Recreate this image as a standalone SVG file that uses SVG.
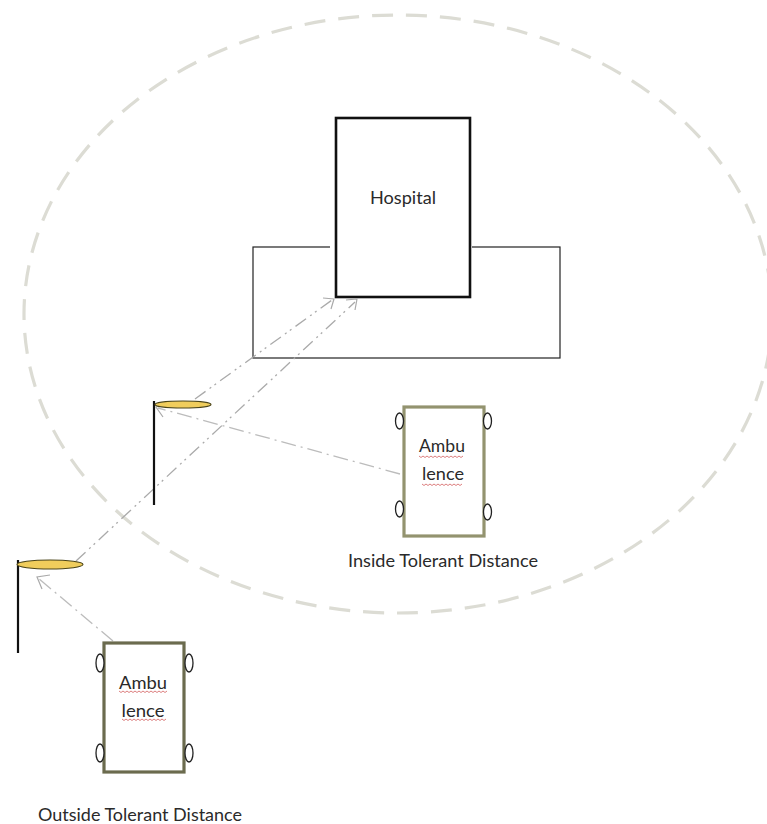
<svg xmlns="http://www.w3.org/2000/svg" width="767" height="824" viewBox="0 0 767 824">
<style>
text{font-family:Lato,"Open Sans","Liberation Sans",sans-serif;font-size:16.5px;fill:#2a2a2a;text-anchor:middle}
.c{fill:none;stroke:#aaa;stroke-width:1.3;stroke-dasharray:13 5 2 4 2 5}
.d{fill:none;stroke:#bcbcbc;stroke-width:1.3;stroke-dasharray:15 5 2 5}
.a{fill:none;stroke:#aaa;stroke-width:1.2}
.w{fill:#fff;stroke:#222;stroke-width:1.3}
.u{fill:none;stroke:#d87070;stroke-width:.9}
.pole{stroke:#111;stroke-width:2.2;fill:none}
.lamp{fill:#f0cd5c;stroke:#4a4418;stroke-width:1.1}
</style>
<rect width="767" height="824" fill="#fff"/>
<g id="range"><ellipse cx="398" cy="314" rx="374" ry="299" fill="none" stroke="#dcdcd4" stroke-width="3.2" stroke-dasharray="21 13"/></g>
<g id="base"><rect x="253" y="247" width="307" height="111" fill="#fff" stroke="#222" stroke-width="1.2"/><path d="M330 247h6M470 247h2" stroke="#fff" stroke-width="3"/></g>
<g id="hospital"><rect x="336" y="118" width="134" height="179" fill="#fff" stroke="#111" stroke-width="2.6"/><text x="403" y="204" textLength="66" lengthAdjust="spacingAndGlyphs">Hospital</text></g>
<g id="connectors">
<path class="c" d="M195 399L332 300"/>
<path class="c" d="M76 561L355 302"/>
<path class="d" d="M400 474L158 408"/>
<path class="d" d="M113 641L38 578"/>
<path class="a" d="M323 298L334 299L331 309M346 300L357 299L355 310M168 403L156 407L163 417M50 575L37 577L42 589"/>
</g>
<g id="pole-1"><path class="pole" d="M154 401V505"/><ellipse class="lamp" cx="183" cy="404.500" rx="28" ry="3.500"/></g>
<g id="pole-2"><path class="pole" d="M18 560V653"/><ellipse class="lamp" cx="50" cy="564.500" rx="33" ry="4.500"/></g>
<g id="ambulance-inside">
<rect x="404" y="407" width="80" height="129" fill="#fff" stroke="#93936f" stroke-width="3.200"/>
<ellipse class="w" cx="399.500" cy="421" rx="4" ry="8"/><ellipse class="w" cx="487.500" cy="421" rx="4" ry="8"/><ellipse class="w" cx="399.500" cy="509" rx="4" ry="8"/><ellipse class="w" cx="487.500" cy="512" rx="4" ry="8"/>
<text x="442" y="452" textLength="46" lengthAdjust="spacingAndGlyphs">Ambu</text><text x="443" y="480" textLength="42" lengthAdjust="spacingAndGlyphs">lence</text>
<path class="u" d="M419 456l2 1.500 2-1.500 2 1.500 2-1.500 2 1.500 2-1.500 2 1.500 2-1.500 2 1.500 2-1.500 2 1.500 2-1.500 2 1.500 2-1.500 2 1.500 2-1.500 2 1.500 2-1.500 2 1.500 2-1.500 2 1.500 2-1.500"/>
<path class="u" d="M422 484l2 1.500 2-1.500 2 1.500 2-1.500 2 1.500 2-1.500 2 1.500 2-1.500 2 1.500 2-1.500 2 1.500 2-1.500 2 1.500 2-1.500 2 1.500 2-1.500 2 1.500 2-1.500 2 1.500 2-1.500"/>
</g>
<g id="ambulance-outside">
<rect x="104" y="643" width="80" height="129" fill="#fff" stroke="#6b6b4e" stroke-width="3.200"/>
<ellipse class="w" cx="100" cy="663" rx="4" ry="9"/><ellipse class="w" cx="189" cy="663" rx="4" ry="9"/><ellipse class="w" cx="100" cy="753" rx="4" ry="9"/><ellipse class="w" cx="189" cy="753" rx="4" ry="9"/>
<text x="143" y="689" textLength="48" lengthAdjust="spacingAndGlyphs">Ambu</text><text x="143" y="717" textLength="43" lengthAdjust="spacingAndGlyphs">lence</text>
<path class="u" d="M119 691l2 1.500 2-1.500 2 1.500 2-1.500 2 1.500 2-1.500 2 1.500 2-1.500 2 1.500 2-1.500 2 1.500 2-1.500 2 1.500 2-1.500 2 1.500 2-1.500 2 1.500 2-1.500 2 1.500 2-1.500 2 1.500 2-1.500 2 1.500 2-1.500"/>
<path class="u" d="M122 719l2 1.500 2-1.500 2 1.500 2-1.500 2 1.500 2-1.500 2 1.500 2-1.500 2 1.500 2-1.500 2 1.500 2-1.500 2 1.500 2-1.500 2 1.500 2-1.500 2 1.500 2-1.500 2 1.500 2-1.500 2 1.500 2-1.500"/>
</g>
<g id="labels">
<text x="443" y="567" textLength="190" lengthAdjust="spacingAndGlyphs">Inside Tolerant Distance</text>
<text x="140" y="821" textLength="204" lengthAdjust="spacingAndGlyphs">Outside Tolerant Distance</text>
</g>
</svg>
